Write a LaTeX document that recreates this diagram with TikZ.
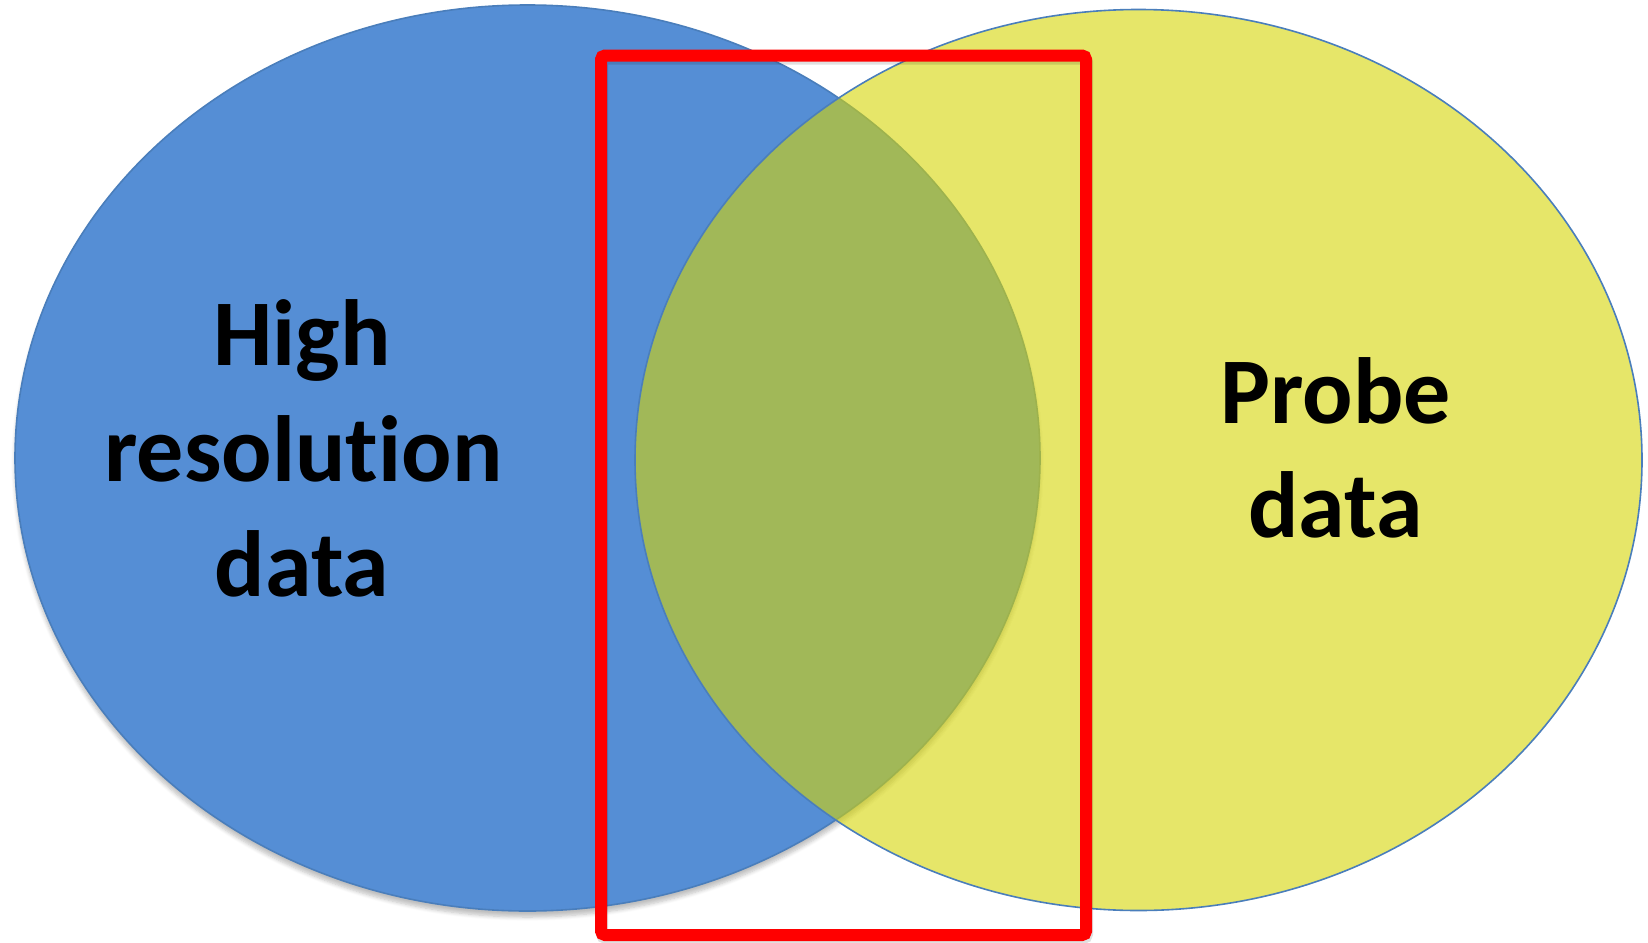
\documentclass[tikz,border=0pt]{standalone}
\usepackage{fontspec}
\setmainfont{Carlito}[Ligatures=NoCommon]
\usetikzlibrary{shadows.blur}
\definecolor{setblue}{RGB}{85,142,213}
\definecolor{setedge}{RGB}{74,126,187}
\definecolor{setyellow}{RGB}{213,213,5}
\definecolor{framered}{RGB}{255,0,0}
\tikzset{
  setshape/.style={draw=setedge, line width=0.8pt},
  label/.style={font=\fontsize{47}{57}\selectfont\bfseries, anchor=base, inner sep=0pt},
  frame/.style={draw=framered, line width=6pt, rounded corners=2pt}
}
\begin{document}
\begin{tikzpicture}[x=0.5pt, y=-0.5pt]
  \useasboundingbox (0,0) rectangle (1648,942);
  % the two data sets
  \path[setshape, fill=setblue, blur shadow={shadow xshift=0pt, shadow yshift=-3pt, shadow blur steps=6, shadow opacity=25}]
    (527.5,458) ellipse [x radius=512.5, y radius=453];
  \path[setshape, fill=setyellow, fill opacity=0.6, draw opacity=1]
    (1138.5,460) ellipse [x radius=503.5, y radius=450.5];
  % soft shade under the selection frame
  \draw[black, opacity=0.12, line width=6pt, rounded corners=2pt]
    (602,58.5) rectangle (1087,938);
  % selection frame
  \draw[frame] (601,55.5) rectangle (1086,935);
  % labels
  \node[label] (hr1) at (302,365) {High};
  \node[label] (hr2) at (303.5,481) {resolution};
  \node[label] (hr3) at (302,596) {data};
  \node[label] (pd1) at (1335.5,423) {Probe};
  \node[label] (pd2) at (1335.5,537) {data};
\end{tikzpicture}
\end{document}
